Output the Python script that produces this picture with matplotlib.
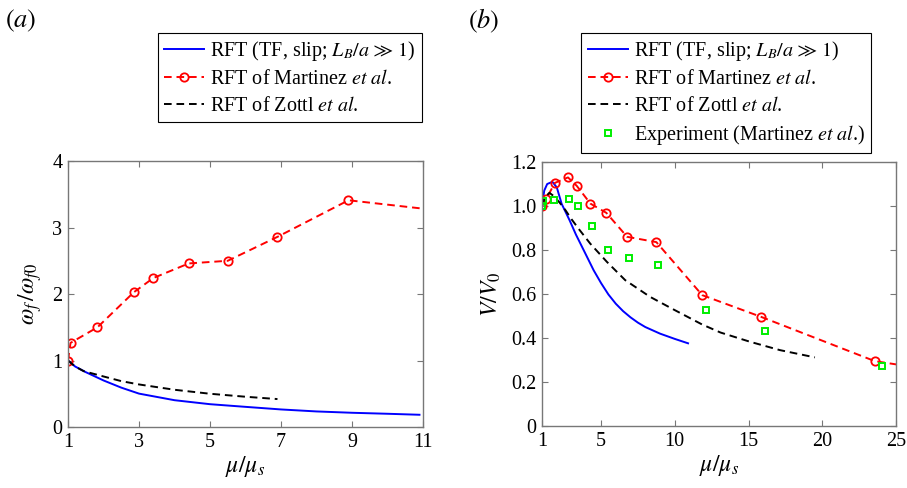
import matplotlib
matplotlib.use("Agg")
import matplotlib.pyplot as plt

plt.rcParams["font.family"] = ["Liberation Serif", "DejaVu Serif"]
plt.rcParams["mathtext.fontset"] = "stix"
plt.rcParams["lines.scale_dashes"] = False

# panel (a): rotation rate ratio
a_blue_x = [1, 1.2, 1.5, 2, 2.5, 3, 4, 5, 6, 7, 8, 9, 10, 10.9]
a_blue_y = [1.0, 0.91, 0.825, 0.70, 0.592, 0.502, 0.403, 0.343, 0.303, 0.264, 0.234, 0.214, 0.199, 0.184]
a_red_x = [1, 1.07, 1.83, 2.85, 3.4, 4.4, 5.5, 6.9, 8.9, 11.9]
a_red_y = [1.0, 1.265, 1.5, 2.025, 2.24, 2.46, 2.5, 2.86, 3.41, 3.23]
a_black_x = [1, 1.2, 1.44, 2, 2.5, 3, 3.5, 4, 5, 6, 6.9]
a_black_y = [1.0, 0.91, 0.84, 0.76, 0.69, 0.64, 0.60, 0.56, 0.50, 0.455, 0.42]

# panel (b): swimming speed ratio
b_blue_x = [1, 1.15, 1.35, 1.7, 2.0, 2.33, 2.87, 3.3, 3.82, 4.5, 5.0, 5.5, 6.0, 6.5,
            7.0, 7.5, 8.0, 9.0, 10.0, 10.9]
b_blue_y = [1.0, 1.07, 1.10, 1.11, 1.085, 1.01, 0.935, 0.87, 0.80, 0.708, 0.650, 0.598,
            0.556, 0.522, 0.494, 0.470, 0.450, 0.420, 0.396, 0.376]
b_red_x = [1, 1.3, 1.87, 2.76, 3.35, 4.28, 5.36, 6.77, 8.75, 11.86, 15.86, 23.56, 26.0]
b_red_y = [1.0, 1.034, 1.105, 1.13, 1.092, 1.011, 0.969, 0.86, 0.836, 0.595, 0.496, 0.295, 0.27]
b_black_x = [1, 1.2, 1.5, 1.8, 2.2, 2.6, 3.0, 3.5, 4.27, 5.4, 6.64, 8.33, 9.91, 11.84,
             13.1, 15.1, 17.13, 19.5]
b_black_y = [1.0, 1.04, 1.06, 1.045, 1.015, 0.98, 0.94, 0.895, 0.829, 0.746, 0.663, 0.587,
             0.530, 0.462, 0.425, 0.383, 0.345, 0.312]
b_exp_x = [1.0, 1.07, 1.83, 2.83, 3.41, 4.38, 5.49, 6.91, 8.88, 12.13, 16.15, 24.05]
b_exp_y = [1.0, 1.023, 1.026, 1.034, 1.0, 0.908, 0.80, 0.763, 0.732, 0.527, 0.43, 0.274]

lab_blue = r"RFT (TF, slip; $L_B/a\,\gg\,1$)"
lab_red = r"RFT of Martinez $\it{et\ al}$."
lab_black = r"RFT of Zottl $\it{et\ al}$."
lab_exp = r"Experiment (Martinez $\it{et\ al}$.)"

fig = plt.figure(figsize=(9.07, 4.88), dpi=100)
ax1 = fig.add_axes([0.075, 0.125, 0.3914, 0.545])
ax2 = fig.add_axes([0.5976, 0.127, 0.3903, 0.541])

lw = 1.4
dash = (5.5, 3.5)


def style_axes(ax):
    for s in ax.spines.values():
        s.set_color("#777777")
        s.set_linewidth(1.0)
    ax.tick_params(direction="in", top=True, right=True, length=4, width=0.8,
                   color="#777777", labelsize=14.5, pad=4)


ax1.plot(a_blue_x, a_blue_y, color="#0000ff", lw=lw, label=lab_blue)
ax1.plot(a_red_x, a_red_y, color="#ff0000", lw=lw, ls="--", dashes=dash, marker="o",
         ms=6, mfc="none", mew=1.3, label=lab_red)
ax1.plot(a_black_x, a_black_y, color="black", lw=lw, ls="--", dashes=dash, label=lab_black)
ax1.set_xlim(1, 11)
ax1.set_ylim(0, 4)
ax1.set_xticks([1, 3, 5, 7, 9, 11])
ax1.set_yticks([0, 1, 2, 3, 4])
ax1.set_xlabel(r"$\mu/\mu_s$", fontsize=17, labelpad=2)
ax1.set_ylabel(r"$\omega_f\,/\omega_{f0}$", fontsize=17, labelpad=6)
style_axes(ax1)

ax2.plot(b_blue_x, b_blue_y, color="#0000ff", lw=lw, label=lab_blue)
ax2.plot(b_red_x, b_red_y, color="#ff0000", lw=lw, ls="--", dashes=dash, marker="o",
         ms=6, mfc="none", mew=1.3, label=lab_red)
ax2.plot(b_black_x, b_black_y, color="black", lw=lw, ls="--", dashes=dash, label=lab_black)
ax2.plot(b_exp_x, b_exp_y, ls="none", marker="s", ms=4.5, mfc="none", mec="#00ee00",
         mew=1.4, label=lab_exp)
ax2.set_xlim(1, 25)
ax2.set_ylim(0, 1.2)
ax2.set_xticks([1, 5, 10, 15, 20, 25])
ax2.set_yticks([0, 0.2, 0.4, 0.6, 0.8, 1.0, 1.2])
ax2.set_yticklabels(["0", "0.2", "0.4", "0.6", "0.8", "1.0", "1.2"])
ax2.set_xlabel(r"$\mu/\mu_s$", fontsize=17, labelpad=2)
ax2.set_ylabel(r"$V/V_0$", fontsize=17, labelpad=6)
style_axes(ax2)

for ax, anchor in [(ax1, (0.4653, 0.9324)), (ax2, (0.9603, 0.9324))]:
    leg = ax.legend(loc="upper right", bbox_to_anchor=anchor, bbox_transform=fig.transFigure,
                    fontsize=14.5, frameon=True, fancybox=False, edgecolor="black",
                    framealpha=1, borderpad=0.3, labelspacing=0.36, handlelength=2.0,
                    handletextpad=0.3, borderaxespad=0, numpoints=1)
    leg.get_frame().set_linewidth(0.8)

fig.text(0.005, 0.958, r"$(a)$", fontsize=19, va="center", ha="left")
fig.text(0.516, 0.958, r"$(b)$", fontsize=19, va="center", ha="left")

fig.savefig("out.png", dpi=100)
